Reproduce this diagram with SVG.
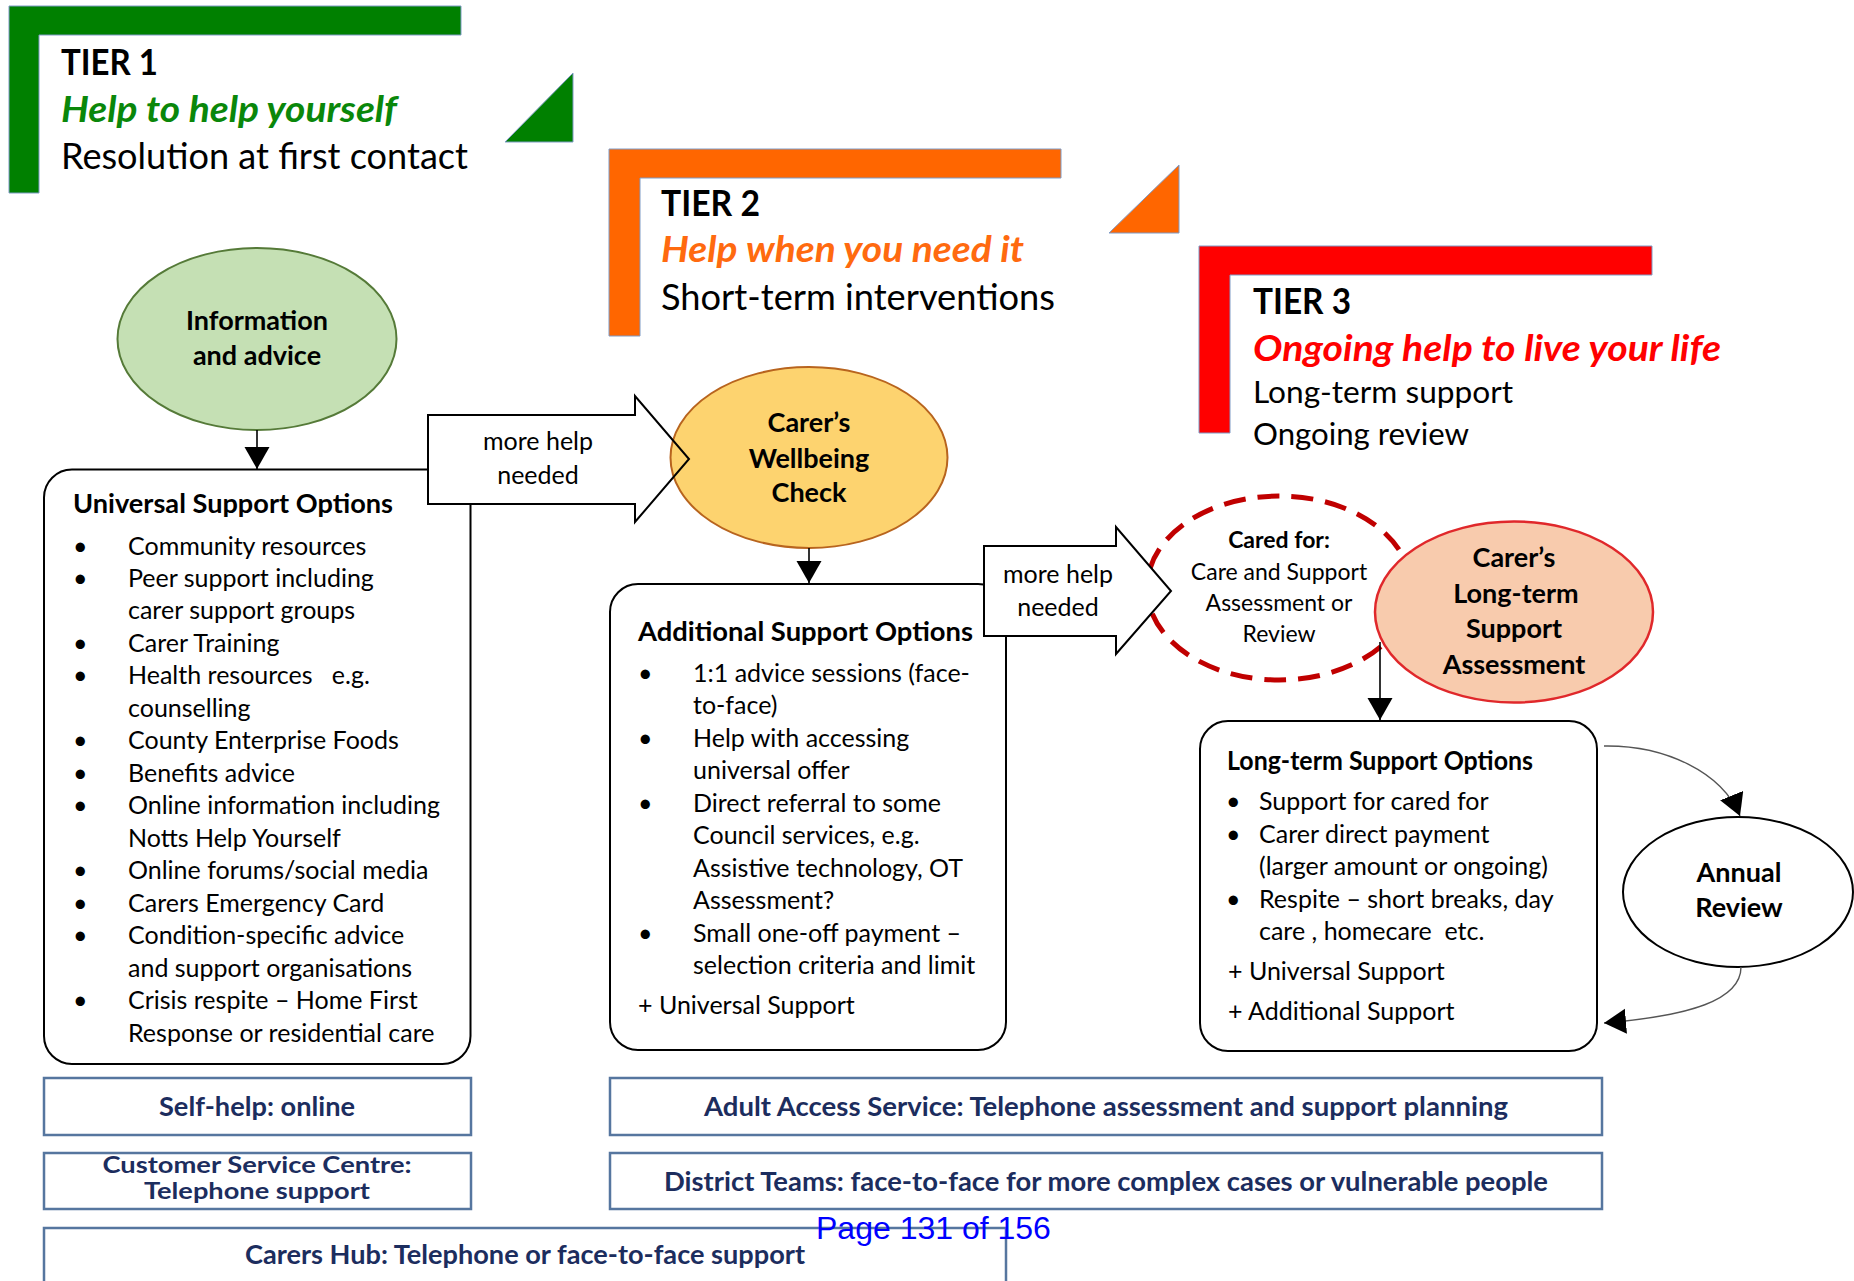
<svg xmlns="http://www.w3.org/2000/svg" width="1854" height="1281" viewBox="0 0 1854 1281">
<style>
text{font-family:Lato,"Open Sans","Liberation Sans",sans-serif;fill:#000}
.b{font-weight:bold}
.bi{font-weight:bold;font-style:italic}
.hdr{font-size:36px}
.sub{font-size:31px}
.item{font-size:25px}
.ttl{font-size:26px;font-weight:bold}
.ell{font-size:27px;font-weight:bold;text-anchor:middle}
.lbl{font-size:25px;text-anchor:middle}
.cf{font-size:23px;text-anchor:middle}
.bot{font-size:26px;font-weight:bold;fill:#1c2d5e;text-anchor:middle}
.bot2{font-size:23px}
.tier{stroke:#7f9bc6;stroke-width:1}
.box{fill:#fff;stroke:#000;stroke-width:2}
.bbox{fill:#fff;stroke:#56769f;stroke-width:2.5}
.conn{fill:none;stroke:#000;stroke-width:1.6}
.curve{fill:none;stroke:#555;stroke-width:1.4}
.blk{fill:none;stroke:#000;stroke-width:2;stroke-linejoin:miter}
</style>
<defs>
<marker id="ah" markerUnits="userSpaceOnUse" markerWidth="24" markerHeight="26" refX="22" refY="12.5" orient="auto">
<path d="M0,0 L22,12.5 L0,25 Z" fill="#000"/>
</marker>
</defs>
<rect width="1854" height="1281" fill="#fff"/>

<g id="tier1">
<polygon class="tier" fill="#008000" points="9,6 461,6 461,35 39,35 39,193 9,193"/>
<polygon class="tier" fill="#008000" points="505,142 573,73 573,142"/>
<text class="b hdr" x="61" y="75" textLength="97" lengthAdjust="spacingAndGlyphs">TIER 1</text>
<text class="bi hdr" x="61" y="122" style="fill:#0a870a" textLength="336" lengthAdjust="spacingAndGlyphs">Help to help yourself</text>
<text class="hdr" x="61" y="169" textLength="407" lengthAdjust="spacingAndGlyphs">Resolution at first contact</text>
</g>

<g id="tier2">
<polygon class="tier" fill="#ff6600" points="609,149 1061,149 1061,178 640,178 640,336 609,336"/>
<polygon class="tier" fill="#ff6600" points="1109,233 1179,165 1179,233"/>
<text class="b hdr" x="661" y="216" textLength="99" lengthAdjust="spacingAndGlyphs">TIER 2</text>
<text class="bi hdr" x="661" y="262" style="fill:#ff6a0f" textLength="363" lengthAdjust="spacingAndGlyphs">Help when you need it</text>
<text class="hdr" x="661" y="310" textLength="394" lengthAdjust="spacingAndGlyphs">Short-term interventions</text>
</g>

<g id="tier3">
<polygon class="tier" fill="#ff0000" points="1199,246 1652,246 1652,275 1230,275 1230,433 1199,433"/>
<text class="b hdr" x="1253" y="314" textLength="98" lengthAdjust="spacingAndGlyphs">TIER 3</text>
<text class="bi hdr" x="1253" y="361" style="fill:#ff0000" textLength="468" lengthAdjust="spacingAndGlyphs">Ongoing  help to live your life</text>
<text class="sub" x="1253" y="403" textLength="260" lengthAdjust="spacingAndGlyphs">Long-term support</text>
<text class="sub" x="1253" y="445" textLength="216" lengthAdjust="spacingAndGlyphs">Ongoing review</text>
</g>

<g id="universal-support">
<rect class="box" x="44" y="469.5" width="426.5" height="594.5" rx="28"/>
<text class="ttl" x="73" y="513" textLength="320" lengthAdjust="spacingAndGlyphs">Universal Support Options</text>
<g class="item">
<text x="73" y="554.5">•</text><text x="128" y="554.5">Community resources</text>
<text x="73" y="587">•</text><text x="128" y="587">Peer support including</text>
<text x="128" y="619.4">carer support groups</text>
<text x="73" y="651.9">•</text><text x="128" y="651.9">Carer Training</text>
<text x="73" y="684.4">•</text><text x="128" y="684.4" xml:space="preserve">Health resources   e.g.</text>
<text x="128" y="716.9">counselling</text>
<text x="73" y="749.3">•</text><text x="128" y="749.3">County Enterprise Foods</text>
<text x="73" y="781.8">•</text><text x="128" y="781.8">Benefits advice</text>
<text x="73" y="814.3">•</text><text x="128" y="814.3">Online information including</text>
<text x="128" y="846.7">Notts Help Yourself</text>
<text x="73" y="879.2">•</text><text x="128" y="879.2">Online forums/social media</text>
<text x="73" y="911.7">•</text><text x="128" y="911.7">Carers Emergency Card</text>
<text x="73" y="944.1">•</text><text x="128" y="944.1">Condition-specific advice</text>
<text x="128" y="976.6">and support organisations</text>
<text x="73" y="1009.1">•</text><text x="128" y="1009.1">Crisis respite – Home First</text>
<text x="128" y="1041.5">Response or residential care</text>
</g>
</g>

<g id="additional-support">
<rect class="box" x="610" y="584" width="396" height="466" rx="28"/>
<text class="ttl" x="638" y="641" textLength="335" lengthAdjust="spacingAndGlyphs">Additional Support Options</text>
<g class="item">
<text x="638" y="682">•</text><text x="693" y="682">1:1 advice sessions (face-</text>
<text x="693" y="714">to-face)</text>
<text x="638" y="747">•</text><text x="693" y="747">Help with accessing</text>
<text x="693" y="779">universal offer</text>
<text x="638" y="812">•</text><text x="693" y="812">Direct referral to some</text>
<text x="693" y="844">Council services, e.g.</text>
<text x="693" y="877">Assistive technology, OT</text>
<text x="693" y="909">Assessment?</text>
<text x="638" y="942">•</text><text x="693" y="942">Small one-off payment –</text>
<text x="693" y="974">selection criteria and limit</text>
<text x="638" y="1014">+ Universal Support</text>
</g>
</g>

<g id="longterm-support">
<rect class="box" x="1200" y="721" width="397" height="330" rx="28"/>
<text class="ttl" x="1227" y="770" textLength="306" lengthAdjust="spacingAndGlyphs">Long-term Support Options</text>
<g class="item">
<text x="1226" y="810">•</text><text x="1259" y="810">Support for cared for</text>
<text x="1226" y="843">•</text><text x="1259" y="843">Carer direct payment</text>
<text x="1259" y="875">(larger amount or ongoing)</text>
<text x="1226" y="908">•</text><text x="1259" y="908">Respite – short breaks, day</text>
<text x="1259" y="940" xml:space="preserve">care , homecare  etc.</text>
<text x="1228" y="980">+ Universal Support</text>
<text x="1228" y="1020">+ Additional Support</text>
</g>
</g>

<g id="info-advice">
<ellipse cx="257" cy="339" rx="139.5" ry="91" fill="#c5e0b4" stroke="#557a38" stroke-width="2"/>
<text class="ell" x="257" y="330">Information</text>
<text class="ell" x="257" y="365">and advice</text>
</g>

<g id="cared-for">
<ellipse cx="1279" cy="588" rx="132" ry="92" fill="none" stroke="#c00000" stroke-width="5" stroke-dasharray="22,12"/>
<text class="cf b" x="1279" y="548">Cared for:</text>
<text class="cf" x="1279" y="580">Care and Support</text>
<text class="cf" x="1279" y="611">Assessment or</text>
<text class="cf" x="1279" y="642">Review</text>
</g>

<g id="arrow-fills">
<polygon fill="#fff" points="428,415 635,415 635,396 689,459 635,522 635,504 428,504"/>
<polygon fill="#fff" points="984,546 1116,546 1116,527 1171,591 1116,654 1116,636 984,636"/>
</g>

<g id="wellbeing-check">
<ellipse cx="809" cy="457.5" rx="138.5" ry="90.5" fill="#fdd36f" stroke="#b8641e" stroke-width="2"/>
<text class="ell" x="809" y="432">Carer’s</text>
<text class="ell" x="809" y="468">Wellbeing</text>
<text class="ell" x="809" y="502">Check</text>
</g>

<g id="carers-longterm-assessment">
<ellipse cx="1514" cy="612" rx="139" ry="90.5" fill="#f8cbad" stroke="#e0282b" stroke-width="2.5"/>
<text class="ell" x="1514" y="567">Carer’s</text>
<text class="ell" x="1516" y="603">Long-term</text>
<text class="ell" x="1514" y="638">Support</text>
<text class="ell" x="1514" y="674">Assessment</text>
</g>

<g id="annual-review">
<ellipse cx="1738" cy="892" rx="115" ry="75" fill="#fff" stroke="#000" stroke-width="2"/>
<text class="ell" x="1739" y="882">Annual</text>
<text class="ell" x="1739" y="917">Review</text>
</g>

<g id="connectors">
<polygon class="blk" points="428,415 635,415 635,396 689,459 635,522 635,504 428,504"/>
<text class="lbl" x="538" y="450">more help</text>
<text class="lbl" x="538" y="484">needed</text>
<polygon class="blk" points="984,546 1116,546 1116,527 1171,591 1116,654 1116,636 984,636"/>
<text class="lbl" x="1058" y="583">more help</text>
<text class="lbl" x="1058" y="616">needed</text>
<line class="conn" x1="257" y1="430" x2="257" y2="469" marker-end="url(#ah)"/>
<line class="conn" x1="809" y1="548" x2="809" y2="583" marker-end="url(#ah)"/>
<line class="conn" x1="1380" y1="642" x2="1380" y2="720" marker-end="url(#ah)"/>
<path class="curve" d="M1604,746 C1665,745 1722,772 1740,816" marker-end="url(#ah)"/>
<path class="curve" d="M1741,967 C1741,1000 1690,1016 1604,1023" marker-end="url(#ah)"/>
</g>

<g id="self-help">
<rect class="bbox" x="44" y="1078" width="427" height="57"/>
<text class="bot" x="257" y="1116" textLength="196" lengthAdjust="spacingAndGlyphs">Self-help: online</text>
</g>
<g id="customer-service">
<rect class="bbox" x="44" y="1153" width="427" height="56"/>
<text class="bot bot2" x="257" y="1173" textLength="309" lengthAdjust="spacingAndGlyphs">Customer Service Centre:</text>
<text class="bot bot2" x="257" y="1199" textLength="226" lengthAdjust="spacingAndGlyphs">Telephone support</text>
</g>
<g id="adult-access">
<rect class="bbox" x="610" y="1078" width="992" height="57"/>
<text class="bot" x="1106" y="1116" textLength="804" lengthAdjust="spacingAndGlyphs">Adult Access Service: Telephone assessment and support planning</text>
</g>
<g id="district-teams">
<rect class="bbox" x="610" y="1153" width="992" height="56"/>
<text class="bot" x="1106" y="1191" textLength="884" lengthAdjust="spacingAndGlyphs">District Teams: face-to-face for more complex cases or vulnerable people</text>
</g>
<g id="carers-hub">
<rect class="bbox" x="44" y="1228" width="962" height="70"/>
<text class="bot" x="525" y="1264" textLength="560" lengthAdjust="spacingAndGlyphs">Carers Hub: Telephone or face-to-face support</text>
</g>
<text x="816" y="1239" style="font-family:'Liberation Sans',Arial,sans-serif;font-size:32px;fill:#0000ff">Page 131 of 156</text>
</svg>
